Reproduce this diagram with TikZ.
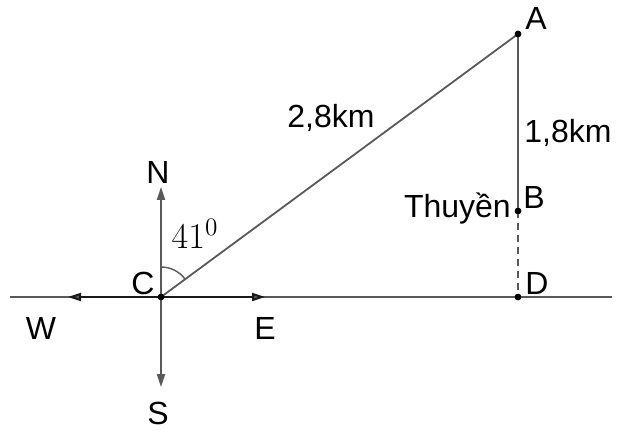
\documentclass[tikz,border=0pt]{standalone}
\usepackage{fontspec}
\setmainfont{Liberation Sans}
\usetikzlibrary{arrows.meta}
\begin{document}
\begin{tikzpicture}[x=1pt,y=-1pt,
  ln/.style={draw=black!65,line width=1.8pt},
  ax/.style={draw=black!65,line width=1.8pt,-{Triangle[length=13pt,width=8pt]}},
  axd/.style={draw=black!90,line width=2pt,-{Triangle[length=13pt,width=8pt,fill=black!65]}},
  pt/.style={circle,fill=black,inner sep=0pt,minimum size=6.5pt},
  lab/.style={font=\fontsize{32}{36}\selectfont,inner sep=0pt}]
\useasboundingbox (0,0) rectangle (622,433);
% points
\coordinate (L) at (10,297);
\coordinate (R) at (612,297);
\node[pt] (C) at (161,297) {};
\node[pt] (A) at (518,34) {};
\node[pt] (B) at (518,211) {};
\node[pt] (D) at (518,297) {};
\coordinate (Wt) at (68,297);
\coordinate (Et) at (265,297);
\coordinate (Nt) at (161,187);
\coordinate (St) at (161,387);
% lines
\draw[ln] (L) -- (R);
\draw[ax] (C.center) -- (Nt);
\draw[ax] (C.center) -- (St);
\draw[axd] (C.center) -- (Wt);
\draw[axd] (C.center) -- (Et);
\draw[ln] (C.center) -- (A.center);
\draw[ln] (A.center) -- (B.center);
\draw[ln,dashed,dash pattern=on 7pt off 5pt] (B.center) -- (D.center);
% angle arc
\draw[ln,line width=1.4pt] (161,267) arc[start angle=-90,end angle=-36.4,radius=30];
\node[pt] at (C) {};
\node[pt] at (A) {};
\node[pt] at (B) {};
\node[pt] at (D) {};
% labels
\node[lab] (lN) at (158,172) {N};
\node[lab] (lS) at (158,413) {S};
\node[lab] (lW) at (41,328) {W};
\node[lab] (lE) at (265,328) {E};
\node[lab] (lC) at (143,283) {C};
\node[lab] (lA) at (536,18) {A};
\node[lab] (lB) at (534,197) {B};
\node[lab] (lD) at (537,283) {D};
\node[lab,anchor=east] (lT) at (511,209) {Thuyền};
\node[lab] (l28) at (331,118) {2,8km};
\node[lab] (l18) at (568,133) {1,8km};
\node[inner sep=0pt,font=\fontsize{20}{24}\selectfont] (ang) at (195,234) {\scalebox{1.75}{$41^0$}};
\end{tikzpicture}
\end{document}
